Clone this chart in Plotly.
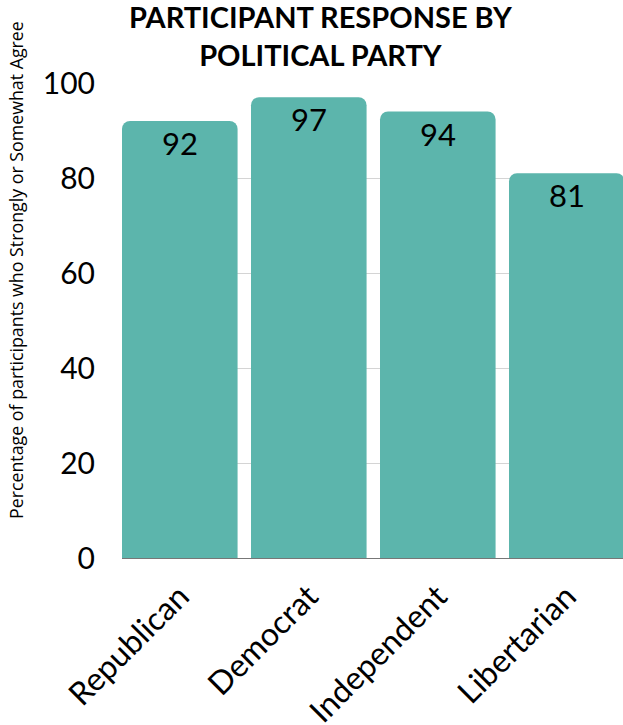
import plotly.graph_objects as go

categories = ["Republican", "Democrat", "Independent", "Libertarian"]
values = [92, 97, 94, 81]
y_ticks = [0, 20, 40, 60, 80, 100]

title_text = "PARTICIPANT RESPONSE BY<br>POLITICAL PARTY"
y_title = "Percentage of participants who Strongly or Somewhat Agree"

W, H = 623, 725
L, R, T, B = 122, 0, 83, 725 - 558
pw, ph = W - L - R, H - T - B


def px_x(x):
    return (x - L) / pw


def px_y(y):
    return (H - B - y) / ph


cat_px = 129.0
left = -0.448
right = left + pw / cat_px

fig = go.Figure(
    go.Bar(
        x=categories,
        y=values,
        marker=dict(color="#5cb5ac", line=dict(width=0)),
        hoverinfo="skip",
    )
)

for c, v in zip(categories, values):
    fig.add_annotation(
        x=c, y=v, xref="x", yref="y", text=str(v),
        showarrow=False, yanchor="top", xanchor="center", yshift=-1,
        font=dict(family="Lato", size=31, color="#000000"),
    )

fig.update_layout(
    width=W,
    height=H,
    margin=dict(l=L, r=R, t=T, b=B, autoexpand=False),
    paper_bgcolor="white",
    plot_bgcolor="white",
    bargap=0.104,
    barcornerradius=8,
    showlegend=False,
    font=dict(family="Lato", color="#000000"),
)

fig.update_xaxes(
    range=[left, right],
    tickangle=-45,
    tickfont=dict(family="Lato", size=32, color="#000000"),
    showgrid=False,
    showline=False,
    ticks="outside",
    ticklen=6,
    tickcolor="rgba(0,0,0,0)",
)

fig.update_yaxes(
    range=[0, 100],
    tickvals=y_ticks,
    tickfont=dict(family="Lato", size=30, color="#000000"),
    showgrid=True,
    gridcolor="#d4d4d4",
    gridwidth=1,
    zeroline=True,
    zerolinecolor="#777777",
    zerolinewidth=1,
    showline=False,
    ticks="outside",
    ticklen=20,
    tickcolor="rgba(0,0,0,0)",
)

fig.add_annotation(
    text=title_text, xref="paper", yref="paper",
    x=px_x(320), y=px_y(35), xanchor="center", yanchor="middle",
    showarrow=False, font=dict(family="Lato", size=29, color="#000000", weight="bold"),
)
fig.add_annotation(
    text=y_title, xref="paper", yref="paper",
    x=px_x(16), y=px_y(270), xanchor="center", yanchor="middle",
    textangle=-90, showarrow=False,
    font=dict(family="Open Sans", size=17.8, color="#000000"),
)

fig.write_html(
    "out.html",
    config={"displayModeBar": False},
    post_script="document.body.style.margin='0';document.body.style.overflow='hidden';",
)
